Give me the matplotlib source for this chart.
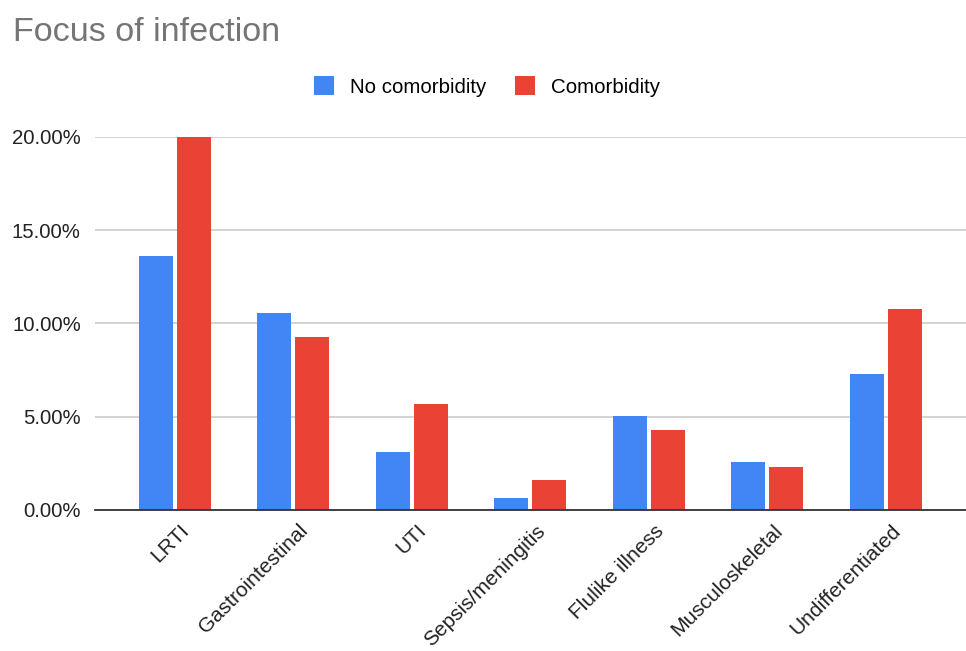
import numpy as np
import matplotlib.pyplot as plt
import matplotlib.transforms as mtransforms
from matplotlib.ticker import FuncFormatter

plt.rcParams['font.family'] = ['Liberation Sans', 'DejaVu Sans']

# dados
categorias = ['LRTI', 'Gastrointestinal', 'UTI', 'Sepsis/meningitis',
              'Flulike illness', 'Musculoskeletal', 'Undifferentiated']
sem_comorbidade = [13.62, 10.56, 3.11, 0.64, 5.04, 2.57, 7.29]
com_comorbidade = [20.00, 9.28, 5.68, 1.61, 4.29, 2.31, 10.78]
ticks_y = [0, 5, 10, 15, 20]

azul = '#4285F4'
vermelho = '#EA4335'

fig = plt.figure(figsize=(9.66, 6.51), dpi=100)
ax = fig.add_axes([0.098, 0.2166, 0.902, 0.573])

x = np.arange(len(categorias))
largura = 0.287
desloc = 0.16
ax.bar(x - desloc, sem_comorbidade, largura, color=azul, label='No comorbidity', zorder=3)
ax.bar(x + desloc, com_comorbidade, largura, color=vermelho, label='Comorbidity', zorder=3)

ax.set_xlim(-0.675, 6.675)
ax.set_ylim(0, 20)
ax.set_yticks(ticks_y)
ax.yaxis.set_major_formatter(FuncFormatter(lambda v, p: f'{v:.2f}%'))
ax.grid(axis='y', color='#cccccc', linewidth=1.2, zorder=0)

for lado in ['top', 'right', 'left']:
    ax.spines[lado].set_visible(False)
ax.spines['bottom'].set_color('#333333')
ax.spines['bottom'].set_linewidth(1.3)
ax.spines['bottom'].set_zorder(4)

ax.tick_params(axis='y', length=0, pad=10, labelsize=14.7, labelcolor='#222222')
ax.tick_params(axis='x', length=0, pad=8, labelsize=15, labelcolor='#222222')
ax.set_xticks(x)
ax.set_xticklabels(categorias, rotation=45, ha='right', va='top', rotation_mode='anchor')

# empurra os rotulos um pouco para a direita
offset = mtransforms.ScaledTranslation(5 / 100, 0, fig.dpi_scale_trans)
for rotulo in ax.get_xticklabels():
    rotulo.set_transform(rotulo.get_transform() + offset)

fig.text(0.013, 0.937, 'Focus of infection', fontsize=24.6, color='#757575')

fig.legend(loc='center', bbox_to_anchor=(0.504, 0.867), ncol=2, frameon=False,
           fontsize=14.8, handlelength=1.0, handleheight=1.0, handletextpad=0.75,
           columnspacing=1.4)

fig.savefig('out.png', dpi=100)
